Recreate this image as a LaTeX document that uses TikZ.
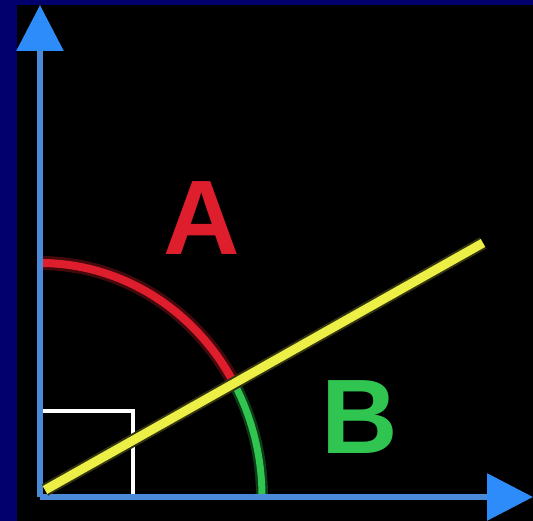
\documentclass[tikz,border=0pt]{standalone}
\usepackage{fontspec}
\setmainfont{Liberation Sans}
\usetikzlibrary{arrows.meta}
\definecolor{navy}{RGB}{2,0,108}
\definecolor{axisblue}{RGB}{74,138,216}
\definecolor{tipblue}{RGB}{45,140,250}
\definecolor{arcred}{RGB}{222,30,44}
\definecolor{arcgreen}{RGB}{48,196,80}
\definecolor{lineyellow}{RGB}{236,240,70}
\tikzset{
  axis/.style={line width=6pt, axisblue, -{Triangle[length=46pt,width=46pt,fill=tipblue,color=tipblue]}},
  letter/.style={font=\bfseries\fontsize{106}{106}\selectfont, inner sep=0pt}
}
\begin{document}
\begin{tikzpicture}[x=1pt,y=1pt]
\useasboundingbox (0,0) rectangle (533,521);
\fill[navy] (0,0) rectangle (533,521);
\fill[black] (17,0) rectangle (533,516);
\coordinate (O) at (40,24);
\coordinate (ytip) at (40,516);
\coordinate (xtip) at (533,24);
\coordinate (sqa) at (40,110);
\coordinate (sqb) at (133,110);
\coordinate (sqc) at (133,24);
\coordinate (ys) at (45,31);
\coordinate (ye) at (483,278);
% white right-angle square
\draw[white, line width=4pt] (sqa) -- (sqb) -- (sqc);
% arcs
\draw[arcred!30!black, line width=14pt] ([shift={(0,234)}]O) arc[start angle=90, end angle=29, x radius=222, y radius=234];
\draw[arcred, line width=8pt] ([shift={(0,234)}]O) arc[start angle=90, end angle=29, x radius=222, y radius=234] coordinate (M);
\draw[arcgreen!30!black, line width=12pt] (M) arc[start angle=29, end angle=0, x radius=222, y radius=234];
\draw[arcgreen, line width=7pt] (M) arc[start angle=29, end angle=0, x radius=222, y radius=234];
% axes
\draw[axis] (O) -- (ytip);
\draw[axis] (O) -- (xtip);
% yellow line
\draw[lineyellow!22!black, line width=13pt] (ys) -- (ye);
\draw[lineyellow, line width=9pt] (ys) -- (ye);
% letters
\node[letter, text=arcred] (A) at (202,303) {A};
\node[letter, text=arcgreen] (B) at (360,104) {B};
\end{tikzpicture}
\end{document}
